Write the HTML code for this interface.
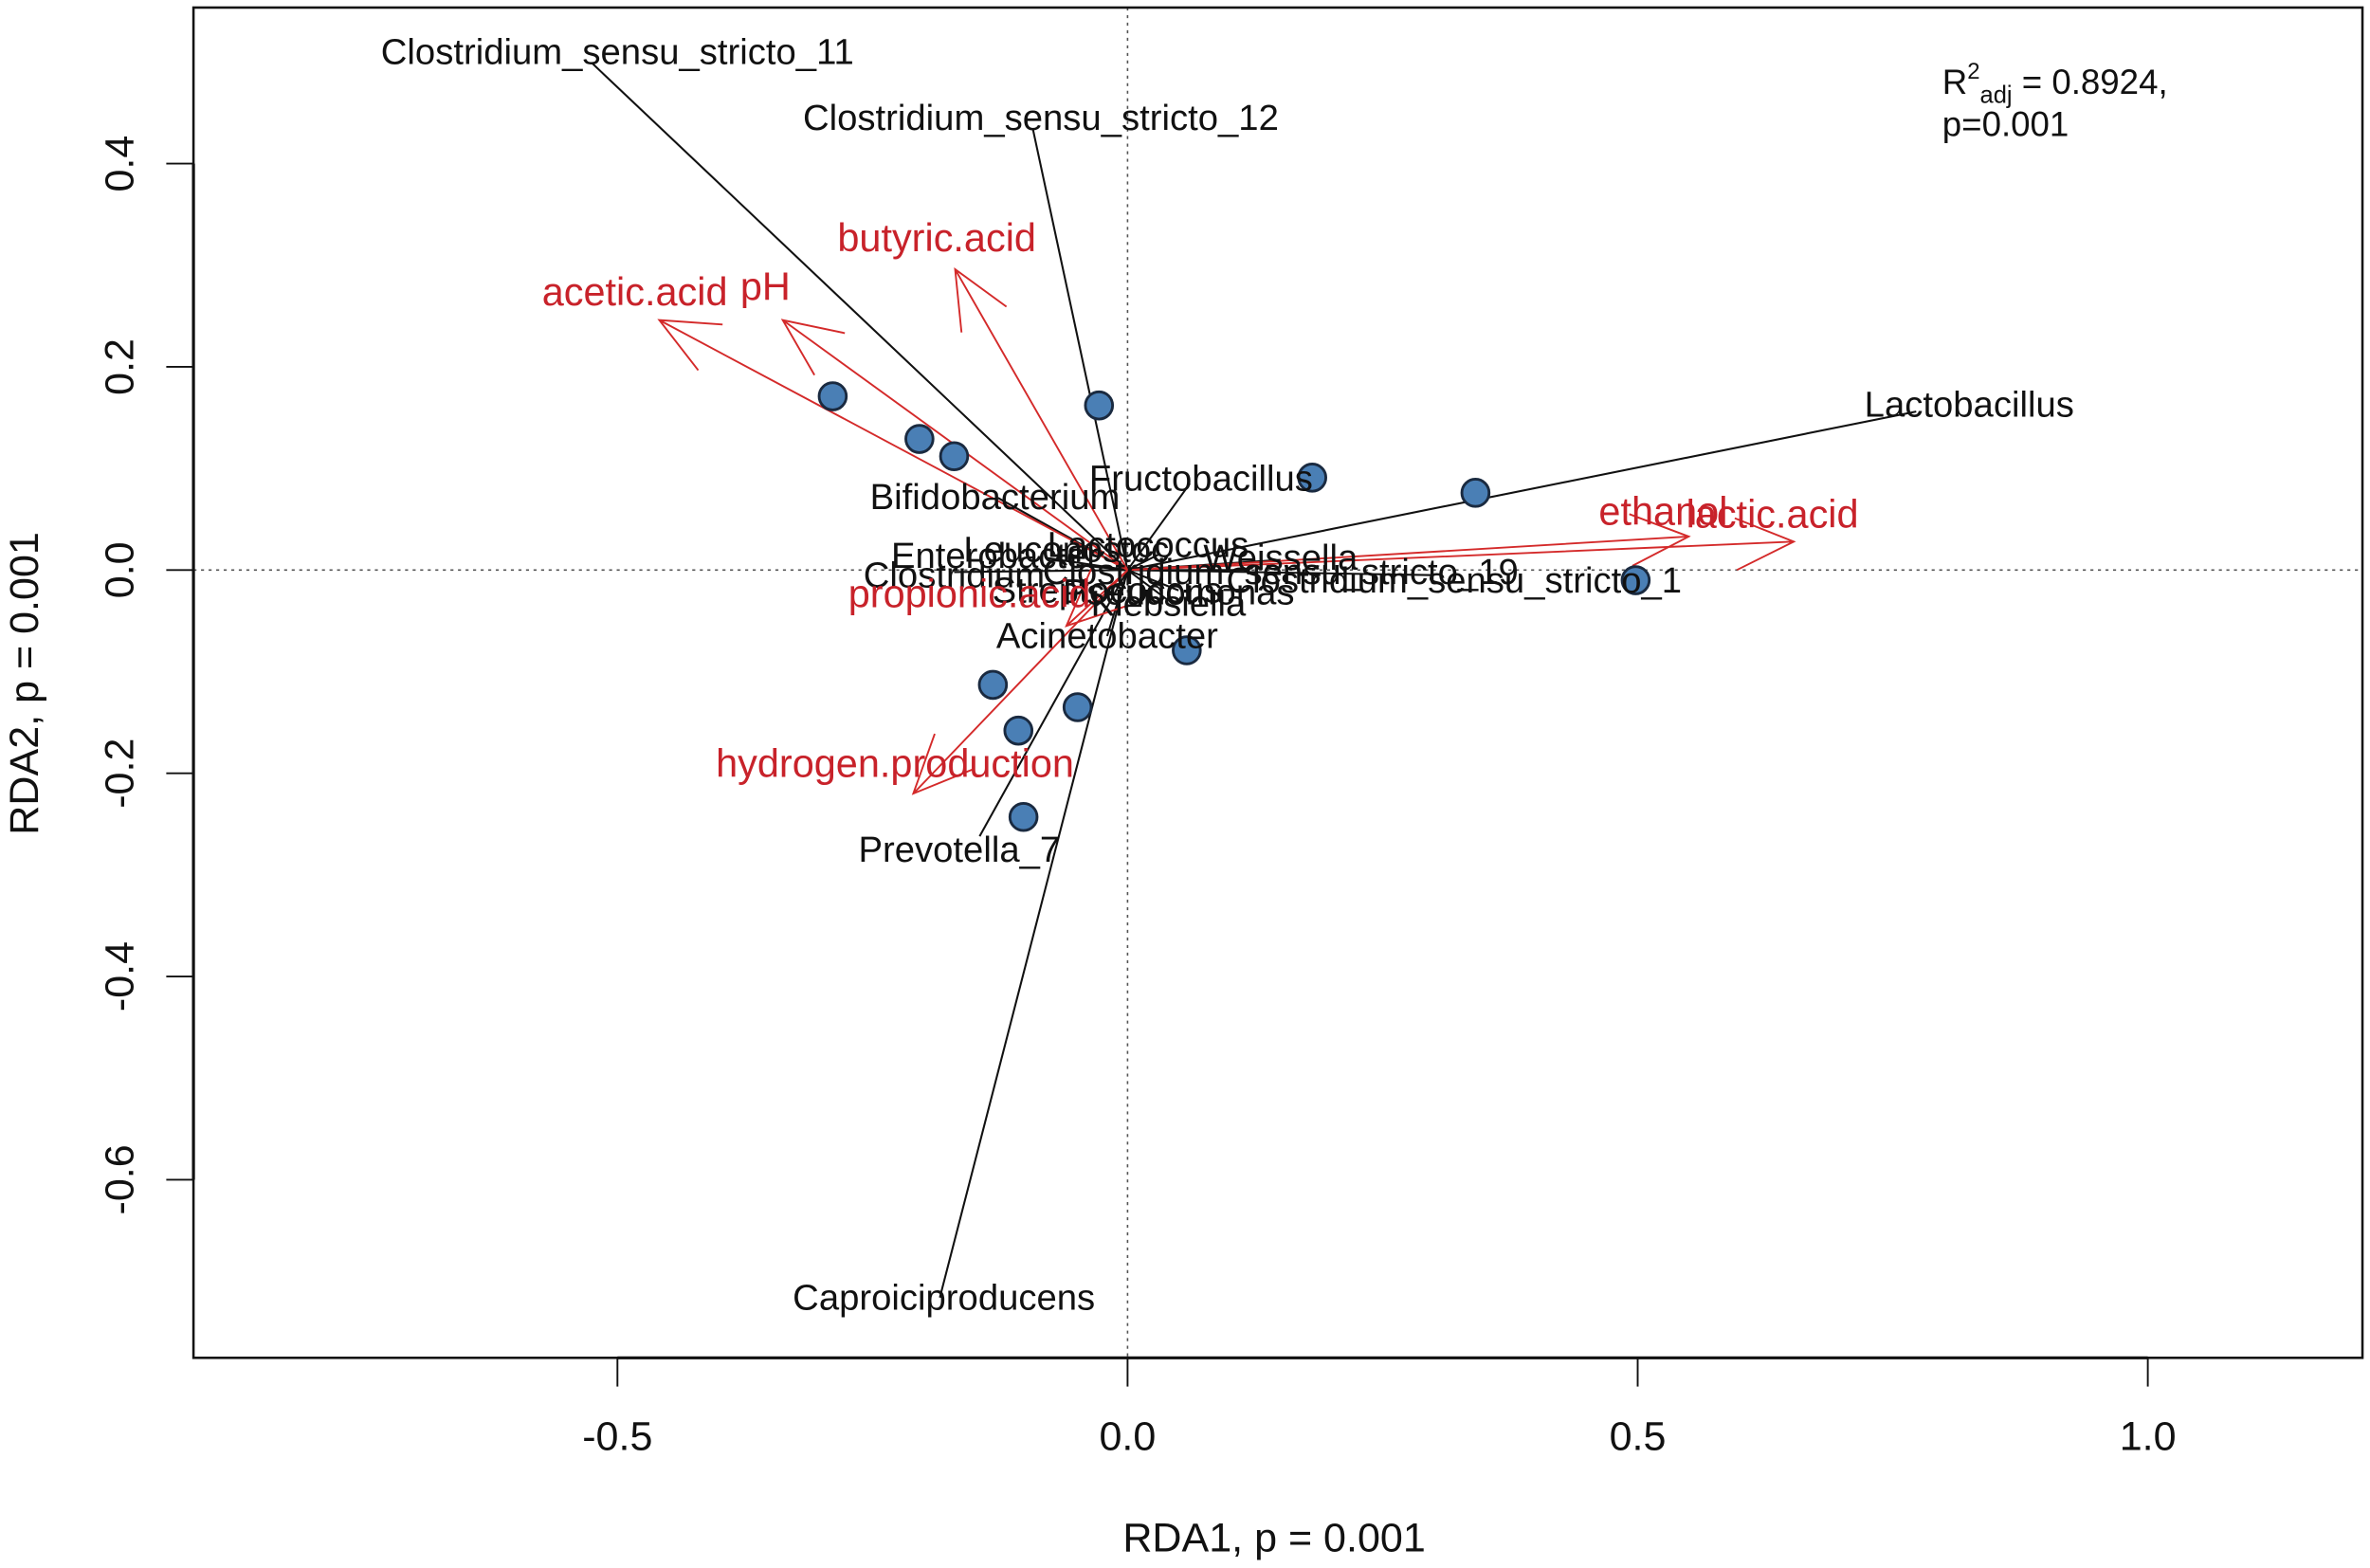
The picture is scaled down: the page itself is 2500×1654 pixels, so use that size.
<!DOCTYPE html>
<html><head><meta charset="utf-8"><style>
html,body{margin:0;padding:0;background:#fff;}
svg{display:block;}
text{font-family:"Liberation Sans",sans-serif;}
</style></head><body>
<svg id="chart" width="2500" height="1654" viewBox="0 0 1568 1037" preserveAspectRatio="none" xmlns="http://www.w3.org/2000/svg">
<rect x="0" y="0" width="1568" height="1037" fill="#fff"/>
<g id="plot"></g>
</svg>
<script>
const xTicks=[-0.5,0.0,0.5,1.0];
const xTickLabels=["-0.5","0.0","0.5","1.0"];
const yTicks=[0.4,0.2,0.0,-0.2,-0.4,-0.6];
const yTickLabels=["0.4","0.2","0.0","-0.2","-0.4","-0.6"];
const siteX=[-0.289,-0.204,-0.170,-0.028,0.181,0.341,0.498,0.058,-0.132,-0.049,-0.107,-0.102];
const siteY=[0.171,0.129,0.112,0.162,0.091,0.076,-0.010,-0.079,-0.113,-0.135,-0.158,-0.243];
const speciesNames=["Clostridium_sensu_stricto_11","Clostridium_sensu_stricto_12","Lactobacillus","Caproiciproducens","Prevotella_7","Fructobacillus","Bifidobacterium","Acinetobacter","Lactococcus","Klebsiella","Clostridium_sensu_stricto_1","Clostridium_sensu_stricto_19","Enterobacter","Clostridium","Pseudomonas","Streptococcus","Weissella","Leuconostoc"];
const speciesX=[-0.524,-0.093,0.773,-0.184,-0.145,0.061,-0.127,-0.020,0.03,0.04,0.30,0.12,-0.08,-0.17,0.05,0.0,0.15,-0.05];
const speciesY=[0.498,0.435,0.156,-0.716,-0.262,0.085,0.071,-0.065,0.015,-0.030,-0.005,0.000,0.012,-0.002,-0.020,-0.015,0.010,0.005];
const speciesLabX=[-0.5,-0.085,0.825,-0.18,-0.165,0.072,-0.13,-0.02,0.02,0.04,0.32,0.15,-0.13,-0.17,0.05,-0.02,0.15,-0.06];
const speciesLabY=[0.51,0.445,0.163,-0.716,-0.275,0.09,0.072,-0.065,0.025,-0.033,-0.010,-0.002,0.014,-0.005,-0.022,-0.02,0.012,0.02];
const envNames=["acetic.acid","pH","butyric.acid","ethanol","lactic.acid","hydrogen.production","propionic.acid"];
const envX=[-0.459,-0.338,-0.169,0.550,0.653,-0.210,-0.060];
const envY=[0.246,0.246,0.296,0.033,0.028,-0.220,-0.055];
const envLabX=[-0.483,-0.355,-0.187,0.525,0.632,-0.228,-0.155];
const envLabY=[0.274,0.279,0.327,0.058,0.055,-0.190,-0.023];

const X=v=>746+v*675, Y=v=>377-v*672;
const NS="http://www.w3.org/2000/svg";
const g=document.getElementById('plot');
function mk(tag,attrs,parent){const e=document.createElementNS(NS,tag);for(const k in attrs)e.setAttribute(k,attrs[k]);(parent||g).appendChild(e);return e;}

let e=mk('line',{x1:X(0),y1:5,x2:X(0),y2:898,stroke:'#555','stroke-width':1,'stroke-dasharray':'2,3'});


e=mk('line',{x1:128,y1:Y(0),x2:1563,y2:Y(0),stroke:'#555','stroke-width':1,'stroke-dasharray':'2,3'});



speciesNames.forEach((n,i)=>{
  const l=mk('line',{x1:X(0),y1:Y(0),x2:X(speciesX[i]),y2:Y(speciesY[i]),stroke:'#111','stroke-width':1.3});
  
  
});
function arrow(i){
  const x0=X(0),y0=Y(0),x1=X(envX[i]),y1=Y(envY[i]);
  const a=Math.atan2(y1-y0,x1-x0),L=42,s=0.42;
  const p=`M${x0},${y0}L${x1},${y1}M${x1-L*Math.cos(a-s)},${y1-L*Math.sin(a-s)}L${x1},${y1}L${x1-L*Math.cos(a+s)},${y1-L*Math.sin(a+s)}`;
  const el=mk('path',{d:p,fill:'none',stroke:'#d42a2a','stroke-width':1.2});
  
  
}
envNames.forEach((n,i)=>arrow(i));
siteX.forEach((v,i)=>{
  const c=mk('circle',{cx:X(v),cy:Y(siteY[i]),r:9,fill:'#4a7fb5',stroke:'#1a2a40','stroke-width':1.8});
  
  
});
speciesNames.forEach((n,i)=>{
  const t=mk('text',{x:X(speciesLabX[i]),y:Y(speciesLabY[i])+8,'text-anchor':'middle','font-size':24,fill:'#111'});
  t.textContent=n;
  
  
});
envNames.forEach((n,i)=>{
  const t=mk('text',{x:X(envLabX[i]),y:Y(envLabY[i])+9,'text-anchor':'middle','font-size':26,fill:'#c8222a'});
  t.textContent=n;
  
  
});
e=mk('rect',{x:128,y:5,width:1435,height:893,fill:'none',stroke:'#111','stroke-width':1.6});


e=mk('line',{x1:X(xTicks[0]),y1:898,x2:X(xTicks[xTicks.length-1]),y2:898,stroke:'#111','stroke-width':2});


xTicks.forEach((v,i)=>{
  const tk=mk('line',{x1:X(v),y1:898,x2:X(v),y2:917,stroke:'#111','stroke-width':1.2});
  
  
  const t=mk('text',{x:X(v),y:959,'text-anchor':'middle','font-size':27,fill:'#111'});
  t.textContent=xTickLabels[i];
  
  
});
e=mk('line',{x1:128,y1:Y(yTicks[0]),x2:128,y2:Y(yTicks[yTicks.length-1]),stroke:'#111','stroke-width':2});


yTicks.forEach((v,i)=>{
  const tk=mk('line',{x1:110,y1:Y(v),x2:128,y2:Y(v),stroke:'#111','stroke-width':1.2});
  
  
  const t=mk('text',{x:88,y:Y(v),'text-anchor':'middle','font-size':27,fill:'#111',transform:`rotate(-90 88 ${Y(v)})`});
  t.textContent=yTickLabels[i];
  
  
});
e=mk('text',{x:843,y:1026,'text-anchor':'middle','font-size':27,fill:'#111'});
e.textContent='RDA1, p = 0.001';


e=mk('text',{x:25,y:452,'text-anchor':'middle','font-size':27,fill:'#111',transform:'rotate(-90 25 452)'});
e.textContent='RDA2, p = 0.001';


e=mk('text',{x:1285,y:62,'font-size':23,fill:'#111'});
e.innerHTML='R<tspan dy="-10" font-size="15">2</tspan><tspan dy="16" font-size="16">adj</tspan><tspan dy="-6"> = 0.8924,</tspan>';


e=mk('text',{x:1285,y:90,'font-size':23,fill:'#111'});
e.textContent='p=0.001';


</script>
</body></html>
